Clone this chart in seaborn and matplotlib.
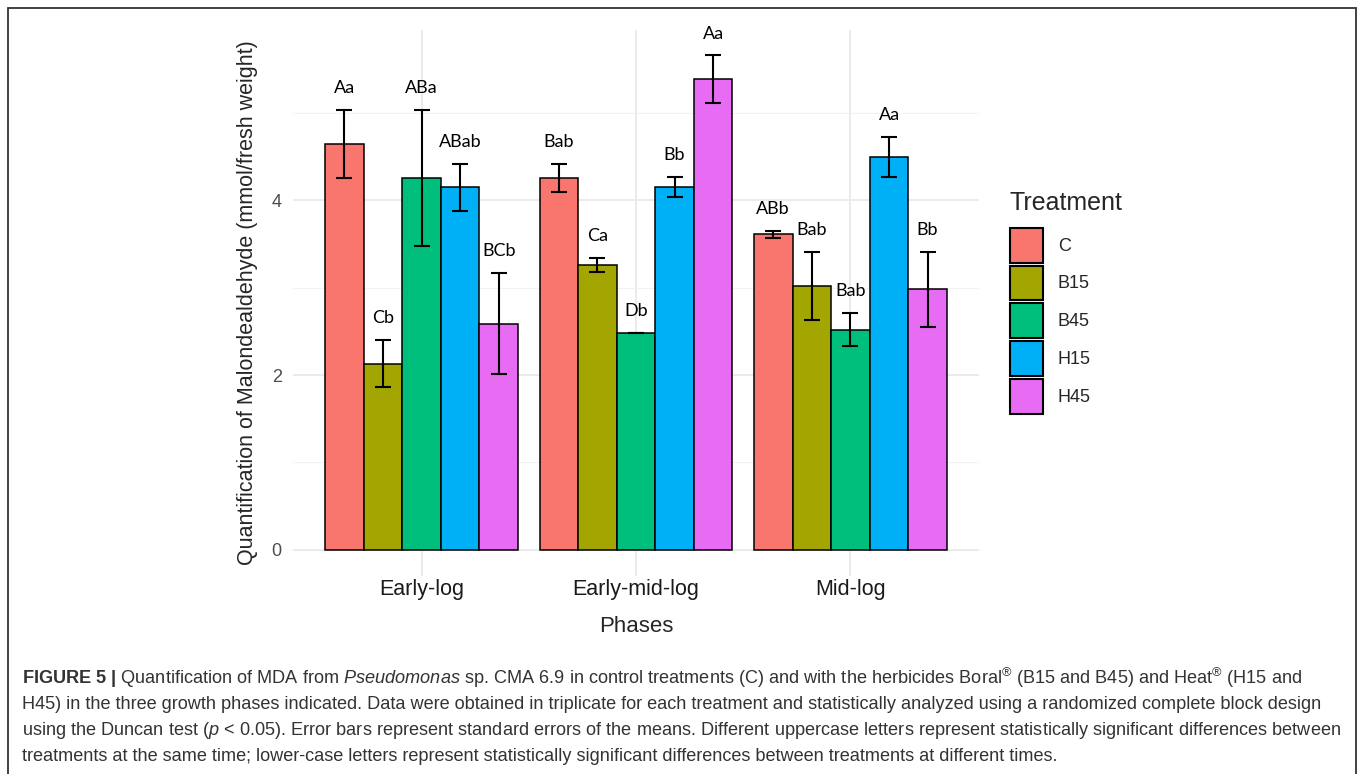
import pandas as pd
import seaborn as sns
import matplotlib.pyplot as plt
from matplotlib.patches import Patch, Rectangle

# values
phases     = ['Early-log', 'Early-mid-log', 'Mid-log']
treatments = ['C', 'B15', 'B45', 'H15', 'H45']
mean_C     = [4.65, 4.26, 3.61]
mean_B15   = [2.13, 3.26, 3.02]
mean_B45   = [4.26, 2.48, 2.52]
mean_H15   = [4.15, 4.15, 4.50]
mean_H45   = [2.59, 5.39, 2.98]
se_C       = [0.39, 0.16, 0.04]
se_B15     = [0.27, 0.08, 0.39]
se_B45     = [0.78, 0.00, 0.19]
se_H15     = [0.27, 0.115, 0.23]
se_H45     = [0.58, 0.27, 0.43]
lab_C      = ['Aa', 'Bab', 'ABb']
lab_B15    = ['Cb', 'Ca', 'Bab']
lab_B45    = ['ABa', 'Db', 'Bab']
lab_H15    = ['ABab', 'Bb', 'Aa']
lab_H45    = ['BCb', 'Aa', 'Bb']

palette = ['#F8766D', '#A3A500', '#00BF7D', '#00B0F6', '#E76BF3']

means  = [mean_C, mean_B15, mean_B45, mean_H15, mean_H45]
ses    = [se_C, se_B15, se_B45, se_H15, se_H45]
labels = [lab_C, lab_B15, lab_B45, lab_H15, lab_H45]

rows = []
for t, m, s, l in zip(treatments, means, ses, labels):
    for p, mv, sv, lv in zip(phases, m, s, l):
        rows.append({'Phases': p, 'Treatment': t, 'mda': mv, 'se': sv, 'label': lv})
df = pd.DataFrame(rows)

sns.set_style('white')
plt.rcParams['font.family'] = ['Liberation Sans', 'DejaVu Sans']
plt.rcParams['mathtext.fontset'] = 'custom'
plt.rcParams['mathtext.rm'] = 'Liberation Sans'
plt.rcParams['mathtext.it'] = 'Liberation Sans:italic'
plt.rcParams['mathtext.bf'] = 'Liberation Sans:bold'

fig = plt.figure(figsize=(13.6, 7.74), dpi=100)
ax = fig.add_axes([0.2154, 0.2558, 0.5045, 0.7054])

sns.barplot(data=df, x='Phases', y='mda', hue='Treatment', order=phases,
            hue_order=treatments, palette=palette, width=0.9, gap=0,
            errorbar=None, edgecolor='black', linewidth=1.1, saturation=1,
            legend=False, ax=ax, zorder=3)

# error bars + letters on top of each bar
for cont, t in zip(ax.containers, treatments):
    sub = df[df['Treatment'] == t].set_index('Phases').loc[phases]
    for bar, (_, r) in zip(cont, sub.iterrows()):
        xc = bar.get_x() + bar.get_width() / 2
        ax.errorbar(xc, r['mda'], yerr=r['se'], color='black', capsize=6,
                    elinewidth=1.5, capthick=1.5, zorder=4)
        ax.text(xc, r['mda'] + r['se'] + 0.25, r['label'], ha='center', va='center',
                fontsize=13, family='Lato', color='black', zorder=5)

ax.set_xlim(-0.6, 2.6)
ax.set_ylim(-0.3, 5.95)
ax.set_yticks([0, 2, 4])
ax.set_yticks([1, 3, 5], minor=True)
ax.grid(axis='y', which='major', color='#EBEBEB', linewidth=1.4, zorder=0)
ax.grid(axis='y', which='minor', color='#F2F2F2', linewidth=0.8, zorder=0)
ax.grid(axis='x', which='major', color='#EBEBEB', linewidth=1.4, zorder=0)
ax.set_axisbelow(True)
for s in ax.spines.values():
    s.set_visible(False)
ax.tick_params(axis='both', which='both', length=0)
ax.tick_params(axis='x', labelsize=15.5, labelcolor='#1A1A1A', pad=2)
ax.tick_params(axis='y', labelsize=13, labelcolor='#4D4D4D', pad=8)
ax.set_xlabel('Phases', fontsize=16, labelpad=12)
ax.set_ylabel('Quantification of Malondealdehyde (mmol/fresh weight)', fontsize=15.5, labelpad=10)

handles = [Patch(facecolor=c, edgecolor='black', linewidth=1.5) for c in palette]
leg = fig.legend(handles, treatments, title='Treatment', loc='upper left',
                 bbox_to_anchor=(0.737, 0.7632), frameon=False, fontsize=13,
                 title_fontsize=18, handlelength=1.88, handleheight=2.6,
                 labelspacing=0.16, handletextpad=0.8, borderaxespad=0)
leg._legend_box.align = 'left'
leg._legend_box.sep = 9.5

# caption
caption = [
    r"$\mathbf{FIGURE\ 5\ |}$ Quantification of MDA from $\mathit{Pseudomonas}$ sp. CMA 6.9 in control treatments (C) and with the herbicides Boral$^{®}$ (B15 and B45) and Heat$^{®}$ (H15 and",
    "H45) in the three growth phases indicated. Data were obtained in triplicate for each treatment and statistically analyzed using a randomized complete block design",
    r"using the Duncan test ($\mathit{p}$ < 0.05). Error bars represent standard errors of the means. Different uppercase letters represent statistically significant differences between",
    "treatments at the same time; lower-case letters represent statistically significant differences between treatments at different times.",
]
for i, line in enumerate(caption):
    fig.text(22 / 1360, 1 - (678 + 26.3 * i) / 774, line, ha='left', va='center',
             fontsize=13.1, color='#333333')

fig.patches.append(Rectangle((8 / 1360, -0.05), 1348 / 1360, 1.05 - 8 / 774,
                             transform=fig.transFigure, fill=False,
                             edgecolor='#333333', linewidth=1.3))

fig.savefig('out.png', dpi=100)
